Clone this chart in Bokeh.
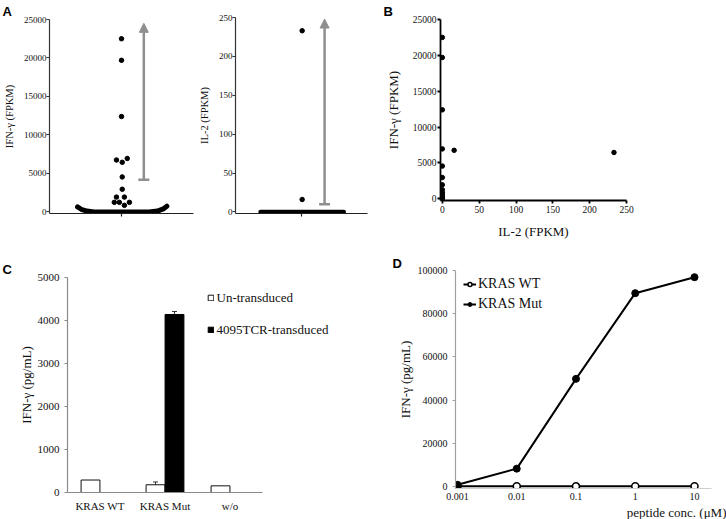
from bokeh.plotting import figure
from bokeh.layouts import row, column
from bokeh.models import (Range1d, FixedTicker, Arrow, NormalHead, TeeHead, Title,
                          Legend, LegendItem, Whisker, ColumnDataSource,
                          PrintfTickFormatter, BasicTickFormatter)
from bokeh.embed import file_html
from bokeh.resources import INLINE

SERIF = "Liberation Serif"
SANS = "Liberation Sans"
ARROW_GRAY = "#8f8f8f"
TXT = "#111111"

# ---------------- data ----------------
# Panel A (left): IFN-gamma FPKM of single cells (swarm offset, value)
a_ifn_x = [0.0, 0.0, 0.0, -0.07, 0.01, 0.08, 0.01, 0.01, -0.07, 0.04, -0.10, -0.03, 0.11, 0.04]
a_ifn_y = [22500, 19700, 12400, 6750, 6450, 6950, 4550, 2950, 1930, 1930, 1250, 1250, 1250, 860]
# dense band of near-zero cells (outline of the swarm)
a_ifn_band_x = [-0.61, -0.56, -0.48, -0.38, 0.38, 0.50, 0.58, 0.63]
a_ifn_band_y = [650, 350, 120, 0, 0, 120, 400, 750]
a_ifn_arrow = [4200, 24500]
a_ifn_ticks = [0, 5000, 10000, 15000, 20000, 25000]

# Panel A (right): IL-2 FPKM
a_il2_x = [0.01, 0.01]
a_il2_y = [233, 16]
a_il2_band_x = [-0.62, 0.64]
a_il2_band_y = [0, 0]
a_il2_arrow = [10, 248]
a_il2_ticks = [0, 50, 100, 150, 200, 250]

# Panel B: IL-2 vs IFN-gamma per cell
b_il2 = [0, 0, 0, 0, 0, 0, 0, 0, 0, 0, 0, 0, 0, 16, 233]
b_ifn = [22500, 19700, 12400, 6950, 4550, 2950, 1930, 1250, 860, 650, 350, 150, 0, 6750, 6450]
b_xticks = [0, 50, 100, 150, 200, 250]
b_yticks = [0, 5000, 10000, 15000, 20000, 25000]

# Panel C: IFN-gamma release (pg/mL)
c_targets = ["KRAS WT", "KRAS Mut", "w/o"]
c_untransduced = [290, 180, 155]
c_untransduced_err = [0, 65, 0]
c_tcr = [float("nan"), 4140, float("nan")]
c_tcr_err = [0, 70, 0]
c_yticks = [0, 1000, 2000, 3000, 4000, 5000]

# Panel D: peptide titration
d_conc = [0.001, 0.01, 0.1, 1, 10]
d_wt = [0, 0, 0, 0, 0]
d_mut = [700, 8200, 49800, 89500, 96900]
d_yticks = [0, 20000, 40000, 60000, 80000, 100000]


def base_fig(width, height, left, right, top, bottom, **kw):
    p = figure(width=width, height=height, min_border_left=left, min_border_right=right,
               min_border_top=top, min_border_bottom=bottom, toolbar_location=None,
               output_backend="svg", **kw)
    try:
        p.frame_align = False
    except Exception:
        pass
    p.outline_line_color = None
    p.grid.visible = False
    p.background_fill_color = "white"
    p.border_fill_color = "white"
    return p


def style_axis(ax, tick_size, label_size, color="black", lw=1.0, tick_out=3,
               label_standoff=2, axis_standoff=5):
    ax.axis_line_color = color
    ax.axis_line_width = lw
    ax.major_tick_line_color = color if tick_out > 0 else None
    ax.major_tick_line_width = lw
    ax.major_tick_out = tick_out
    ax.major_tick_in = 0
    ax.minor_tick_line_color = None
    ax.major_label_text_font = SERIF
    ax.major_label_text_font_size = tick_size
    ax.major_label_text_color = TXT
    ax.major_label_standoff = label_standoff
    ax.axis_label_text_font = SERIF
    ax.axis_label_text_font_style = "normal"
    ax.axis_label_text_font_size = label_size
    ax.axis_label_text_color = TXT
    ax.axis_label_standoff = axis_standoff


def panel_letter(p, text, offset, standoff=2):
    t = p.title
    t.text = text
    t.align = "left"
    t.offset = offset
    t.vertical_align = "bottom"
    t.standoff = standoff
    t.text_font = SANS
    t.text_font_style = "bold"
    t.text_font_size = "13px"
    t.text_color = "black"


TOP_H = 250
BOT_H = 269

# ---------------- Panel A left ----------------
pa1 = base_fig(195, TOP_H, 49, 2, 17, 37, x_range=Range1d(-1, 1), y_range=Range1d(-200, 25000))
pa1.line(a_ifn_band_x, a_ifn_band_y, line_width=5, color="black", line_cap="round", line_join="round")
pa1.scatter(a_ifn_x, a_ifn_y, size=4.5, color="black")
pa1.add_layout(Arrow(start=TeeHead(size=11, line_color=ARROW_GRAY, line_width=2.5),
                     end=NormalHead(size=9, fill_color=ARROW_GRAY, line_color=ARROW_GRAY),
                     x_start=0.31, x_end=0.31, y_start=a_ifn_arrow[0], y_end=a_ifn_arrow[1],
                     line_color=ARROW_GRAY, line_width=2.5))
style_axis(pa1.yaxis[0], "9px", "10.5px", color="#333333", lw=1.2, label_standoff=0,
           axis_standoff=6)
pa1.yaxis.ticker = FixedTicker(ticks=a_ifn_ticks)
pa1.yaxis.axis_label = "IFN-γ (FPKM)"
style_axis(pa1.xaxis[0], "9px", "10px", color="#222222", lw=1.2)
pa1.xaxis.ticker = FixedTicker(ticks=[0])
pa1.xaxis.major_label_text_color = None
panel_letter(pa1, "A", -47)

# ---------------- Panel A right ----------------
pa2 = base_fig(180, TOP_H, 34, 8, 17, 37, x_range=Range1d(-1, 1), y_range=Range1d(-2, 250))
pa2.line(a_il2_band_x, a_il2_band_y, line_width=4.5, color="black", line_cap="round")
pa2.scatter(a_il2_x, a_il2_y, size=4.5, color="black")
pa2.add_layout(Arrow(start=TeeHead(size=11, line_color=ARROW_GRAY, line_width=2.5),
                     end=NormalHead(size=9, fill_color=ARROW_GRAY, line_color=ARROW_GRAY),
                     x_start=0.35, x_end=0.35, y_start=a_il2_arrow[0], y_end=a_il2_arrow[1],
                     line_color=ARROW_GRAY, line_width=2.5))
style_axis(pa2.yaxis[0], "9px", "10.5px", color="#333333", lw=1.2, label_standoff=0,
           axis_standoff=6)
pa2.yaxis.ticker = FixedTicker(ticks=a_il2_ticks)
pa2.yaxis.axis_label = "IL-2 (FPKM)"
style_axis(pa2.xaxis[0], "9px", "10px", color="#222222", lw=1.2)
pa2.xaxis.ticker = FixedTicker(ticks=[0])
pa2.xaxis.major_label_text_color = None

# ---------------- Panel B ----------------
pb = base_fig(351, TOP_H, 65, 100, 16, 50, x_range=Range1d(-2.5, 250), y_range=Range1d(-250, 25000))
pb.scatter(b_il2, b_ifn, size=4.5, color="black")
style_axis(pb.xaxis[0], "9.5px", "13px", color="black", lw=1.8, label_standoff=2, axis_standoff=8)
style_axis(pb.yaxis[0], "9.5px", "13px", color="black", lw=1.8, label_standoff=1, axis_standoff=9)
pb.xaxis.ticker = FixedTicker(ticks=b_xticks)
pb.yaxis.ticker = FixedTicker(ticks=b_yticks)
pb.xaxis.axis_label = "IL-2 (FPKM)"
pb.yaxis.axis_label = "IFN-γ (FPKM)"
panel_letter(pb, "B", -57)

# ---------------- Panel C ----------------
c_pos = list(range(1, len(c_targets) + 1))
C_UNIT = 65.0  # px per category
C_FRAME_W = 365 - 67 - 2
pc = base_fig(365, BOT_H, 67, 2, 27, 27,
              x_range=Range1d(0.5, 0.5 + C_FRAME_W / C_UNIT), y_range=Range1d(0, 5000))
src_c = ColumnDataSource(dict(x_un=[p - 0.146 for p in c_pos], x_tcr=[p + 0.146 for p in c_pos],
                              un=c_untransduced, tcr=c_tcr))
r_un = pc.vbar(x="x_un", top="un", width=0.29, source=src_c,
               fill_color="white", line_color="#111111", line_width=1)
r_tcr = pc.vbar(x="x_tcr", top="tcr", width=0.29, source=src_c,
                fill_color="black", line_color="black", line_width=1)

for vals, errs, off in [(c_untransduced, c_untransduced_err, -0.146), (c_tcr, c_tcr_err, 0.146)]:
    keep = [i for i, e in enumerate(errs) if e > 0]
    esrc = ColumnDataSource(dict(base=[c_pos[i] + off for i in keep],
                                 upper=[vals[i] + errs[i] for i in keep],
                                 lower=[vals[i] - errs[i] for i in keep]))
    pc.add_layout(Whisker(source=esrc, base="base", upper="upper", lower="lower",
                          line_color="#333333", line_width=1,
                          upper_head=TeeHead(size=5, line_color="#333333", line_width=1),
                          lower_head=TeeHead(size=5, line_color="#333333", line_width=1)))

style_axis(pc.yaxis[0], "11px", "13px", color="#8a8a8a", lw=1.2, tick_out=3,
           label_standoff=5, axis_standoff=1)
pc.yaxis.ticker = FixedTicker(ticks=c_yticks)
pc.yaxis.axis_label = "IFN-γ (pg/mL)"
style_axis(pc.xaxis[0], "11px", "13px", color="#8a8a8a", lw=1.2, tick_out=0, label_standoff=7)
pc.xaxis.ticker = FixedTicker(ticks=c_pos)
pc.xaxis.major_label_overrides = {p: t for p, t in zip(c_pos, c_targets)}
pc.xaxis.bounds = (0.5, 0.5 + len(c_targets))
leg_c = Legend(items=[LegendItem(label="Un-transduced", renderers=[r_un]),
                      LegendItem(label="4095TCR-transduced", renderers=[r_tcr])],
               location=(139.5, 154.5), glyph_width=7, glyph_height=7, label_height=16,
               spacing=16, padding=0, margin=0, label_standoff=3,
               border_line_color=None, background_fill_alpha=0,
               label_text_font=SERIF, label_text_font_size="13px", label_text_color=TXT)
pc.add_layout(leg_c)
panel_letter(pc, "C", -65)

# ---------------- Panel D ----------------
D_DEC = 59.25  # px per decade
D_X0 = -3 - 2 / D_DEC
D_FRAME_W = 361 - 90
pdd = base_fig(361, BOT_H, 90, 0, 20, 31, x_axis_type="log",
               x_range=Range1d(10 ** D_X0, 10 ** (D_X0 + D_FRAME_W / D_DEC)),
               y_range=Range1d(-1000, 100000))
wt_line = pdd.line(d_conc, d_wt, line_color="black", line_width=2)
mut_line = pdd.line(d_conc, d_mut, line_color="black", line_width=2)
wt_pts = pdd.scatter(d_conc, d_wt, size=7, marker="circle", fill_color="white",
                     line_color="black", line_width=1.5)
mut_pts = pdd.scatter(d_conc, d_mut, size=7, marker="circle", fill_color="black",
                      line_color="black")
style_axis(pdd.yaxis[0], "10px", "13px", color="#a0a0a0", lw=1.2, tick_out=3,
           label_standoff=5, axis_standoff=2)
pdd.yaxis.ticker = FixedTicker(ticks=d_yticks)
pdd.yaxis.formatter = BasicTickFormatter(use_scientific=False)
pdd.yaxis.axis_label = "IFN-γ (pg/mL)"
style_axis(pdd.xaxis[0], "10px", "13px", color="#cfcfcf", lw=1.2, tick_out=0, label_standoff=4)
pdd.xaxis.ticker = FixedTicker(ticks=d_conc)
pdd.xaxis.formatter = PrintfTickFormatter(format="%g")
pdd.xaxis.bounds = (10 ** D_X0, 10 ** (D_X0 + 256 / D_DEC))
pdd.add_layout(Title(text="peptide conc. (μM)", align="right", offset=0, standoff=0,
                     text_font=SERIF, text_font_style="normal", text_font_size="13px",
                     text_color=TXT), "below")
leg_d = Legend(items=[LegendItem(label="KRAS WT", renderers=[wt_line, wt_pts]),
                      LegendItem(label="KRAS Mut", renderers=[mut_line, mut_pts])],
               location=(8, 176), glyph_width=13, glyph_height=10, label_height=16,
               spacing=4, padding=0, margin=0, label_standoff=2,
               border_line_color=None, background_fill_alpha=0,
               label_text_font=SERIF, label_text_font_size="14px", label_text_color=TXT)
pdd.add_layout(leg_d)
panel_letter(pdd, "D", -63, standoff=0)

layout = column(row(pa1, pa2, pb, spacing=0), row(pc, pdd, spacing=0), spacing=0)
open("out.html", "w").write(file_html(layout, INLINE))
